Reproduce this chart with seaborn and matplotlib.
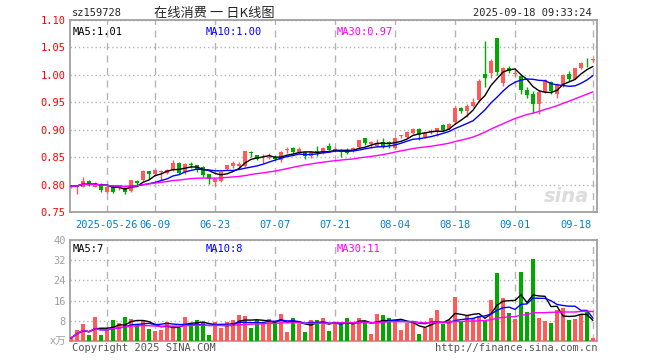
import numpy as np
import pandas as pd
import matplotlib
matplotlib.use("Agg")
import matplotlib.pyplot as plt
import seaborn as sns

# --- daily K-line data for sz159728 ---
opens = [0.796, 0.795, 0.796, 0.807, 0.796, 0.801, 0.787, 0.798, 0.793, 0.793,
         0.789, 0.806, 0.808, 0.824, 0.820, 0.823, 0.821, 0.826, 0.840, 0.823,
         0.837, 0.835, 0.832, 0.819, 0.805, 0.807, 0.828, 0.834, 0.833, 0.834,
         0.860, 0.853, 0.848, 0.849, 0.851, 0.844, 0.863, 0.866, 0.858, 0.859,
         0.852, 0.861, 0.858, 0.870, 0.861, 0.863, 0.863, 0.861, 0.869, 0.884,
         0.874, 0.870, 0.877, 0.877, 0.867, 0.889, 0.887, 0.894, 0.902, 0.887,
         0.896, 0.898, 0.908, 0.902, 0.914, 0.939, 0.934, 0.944, 0.954, 1.001,
         1.004, 1.067, 0.986, 1.013, 1.002, 0.998, 0.972, 0.966, 0.946, 0.969,
         0.987, 0.965, 0.980, 1.001, 0.993, 1.013, 1.024, 1.027]
closes = [0.797, 0.798, 0.807, 0.799, 0.803, 0.790, 0.796, 0.787, 0.798, 0.787,
          0.808, 0.803, 0.825, 0.819, 0.826, 0.824, 0.827, 0.840, 0.821, 0.837,
          0.836, 0.826, 0.818, 0.811, 0.811, 0.823, 0.835, 0.839, 0.838, 0.861,
          0.857, 0.847, 0.849, 0.850, 0.846, 0.859, 0.864, 0.859, 0.864, 0.852,
          0.859, 0.858, 0.867, 0.863, 0.865, 0.859, 0.858, 0.867, 0.881, 0.875,
          0.878, 0.875, 0.869, 0.876, 0.884, 0.890, 0.896, 0.902, 0.890, 0.894,
          0.898, 0.903, 0.900, 0.910, 0.939, 0.934, 0.944, 0.951, 0.988, 0.995,
          1.026, 1.005, 1.012, 1.007, 1.004, 0.973, 0.963, 0.946, 0.969, 0.990,
          0.971, 0.983, 0.999, 0.993, 1.012, 1.021, 1.023, 1.028]
highs = [0.800, 0.799, 0.814, 0.809, 0.804, 0.803, 0.798, 0.799, 0.800, 0.794,
         0.809, 0.808, 0.827, 0.825, 0.829, 0.826, 0.829, 0.845, 0.842, 0.840,
         0.841, 0.836, 0.834, 0.820, 0.812, 0.824, 0.836, 0.843, 0.842, 0.862,
         0.861, 0.854, 0.855, 0.858, 0.853, 0.861, 0.868, 0.869, 0.868, 0.860,
         0.861, 0.870, 0.869, 0.875, 0.868, 0.864, 0.866, 0.869, 0.882, 0.885,
         0.880, 0.883, 0.884, 0.880, 0.886, 0.891, 0.897, 0.903, 0.903, 0.896,
         0.901, 0.904, 0.911, 0.912, 0.943, 0.942, 0.946, 0.957, 0.992, 1.061,
         1.028, 1.067, 1.015, 1.016, 1.009, 1.000, 0.977, 0.970, 0.972, 0.992,
         0.989, 0.985, 1.001, 1.007, 1.013, 1.024, 1.030, 1.030]
lows = [0.793, 0.782, 0.795, 0.797, 0.795, 0.787, 0.785, 0.785, 0.791, 0.783,
        0.787, 0.797, 0.807, 0.811, 0.816, 0.808, 0.819, 0.824, 0.819, 0.820,
        0.830, 0.823, 0.813, 0.801, 0.798, 0.805, 0.826, 0.830, 0.830, 0.832,
        0.851, 0.844, 0.840, 0.847, 0.844, 0.842, 0.857, 0.856, 0.856, 0.847,
        0.848, 0.852, 0.856, 0.859, 0.859, 0.851, 0.855, 0.859, 0.867, 0.873,
        0.866, 0.868, 0.867, 0.866, 0.865, 0.884, 0.885, 0.892, 0.882, 0.885,
        0.893, 0.889, 0.897, 0.900, 0.912, 0.931, 0.924, 0.941, 0.952, 0.977,
        0.995, 1.000, 0.980, 1.004, 0.997, 0.966, 0.958, 0.930, 0.928, 0.967,
        0.965, 0.957, 0.978, 0.989, 0.992, 1.010, 1.014, 1.023]
# volume in 万手
volumes = [1.2, 4.5, 6.7, 2.3, 9.5, 2.3, 4.5, 8.3, 7.2, 9.5,
           8.9, 6.7, 8.3, 4.9, 4.0, 4.3, 7.6, 5.9, 5.3, 9.5,
           6.9, 8.3, 7.5, 2.3, 7.6, 5.3, 7.6, 8.3, 10.3, 10.0,
           5.2, 8.3, 7.2, 8.9, 6.9, 10.7, 3.6, 9.1, 6.9, 3.6,
           8.3, 8.3, 9.3, 3.9, 6.9, 6.9, 9.3, 6.9, 9.3, 7.6,
           2.9, 10.7, 10.1, 9.3, 8.5, 4.3, 7.3, 7.3, 2.7, 5.3,
           9.3, 12.3, 6.9, 8.5, 17.5, 7.6, 9.9, 9.3, 9.9, 8.3,
           16.3, 27.1, 17.1, 11.1, 8.7, 27.5, 11.6, 32.3, 9.1, 8.0,
           7.1, 12.3, 12.9, 8.3, 8.7, 10.7, 11.9, 1.1]

# date labels and the candle they sit on
tick_idx = [6, 14, 24, 34, 44, 54, 64, 74, 87]
tick_labels = ["2025-05-26", "06-09", "06-23", "07-07", "07-21",
               "08-04", "08-18", "09-01", "09-18"]
price_ticks = [0.75, 0.80, 0.85, 0.90, 0.95, 1.00, 1.05, 1.10]
vol_ticks = [0, 8, 16, 24, 32, 40]
vol_tick_labels = ["x万", "8", "16", "24", "32", "40"]

RED = "#ff5a5a"
GREEN = "#00a800"
GRID = "#b4b4b4"
FRAME = "#a0a0a0"

sns.set_style("white")
plt.rcParams["font.family"] = ["DejaVu Sans Mono", "Noto Sans CJK SC"]

df = pd.DataFrame({"idx": np.arange(len(closes)), "open": opens, "close": closes,
                   "high": highs, "low": lows, "volume": volumes})
df["up"] = df["close"] >= df["open"]
df["color"] = np.where(df["up"], RED, GREEN)
for w in (5, 10, 30):
    df[f"ma{w}"] = df["close"].rolling(w, min_periods=1).mean()
    df[f"vma{w}"] = df["volume"].rolling(w, min_periods=1).mean()

W, H = 660, 360
fig = plt.figure(figsize=(W / 100, H / 100), dpi=100)
ax = fig.add_axes([70 / W, 1 - 212 / H, 527 / W, 192 / H])
axv = fig.add_axes([70 / W, 1 - 341 / H, 527 / W, 101 / H])
xlim = (-1 / 6, 526 / 6)

# candles
ax.vlines(df["idx"], df["low"], df["high"], colors=df["color"], lw=1, zorder=3)
body_lo = df[["open", "close"]].min(axis=1)
body_h = (df["close"] - df["open"]).abs().clip(lower=0.0009)
ax.bar(df["idx"], body_h, bottom=body_lo, width=0.78, color=df["color"],
       linewidth=0, zorder=3)
sns.lineplot(x=df["idx"], y=df["ma5"], color="black", lw=1, ax=ax, zorder=4)
sns.lineplot(x=df["idx"], y=df["ma10"], color="#0000ff", lw=1, ax=ax, zorder=4)
sns.lineplot(x=df["idx"], y=df["ma30"], color="#ff00ff", lw=1, ax=ax, zorder=4)

# volume
axv.bar(df["idx"], df["volume"], width=0.78, color=df["color"], linewidth=0, zorder=3)
sns.lineplot(x=df["idx"], y=df["vma5"], color="black", lw=1, ax=axv, zorder=4)
sns.lineplot(x=df["idx"], y=df["vma10"], color="#0000ff", lw=1, ax=axv, zorder=4)
sns.lineplot(x=df["idx"], y=df["vma30"], color="#ff00ff", lw=1, ax=axv, zorder=4)

for a in (ax, axv):
    a.set_xlim(*xlim)
    a.set_xticks(tick_idx)
    a.set_xticklabels([])
    a.set_xlabel("")
    a.set_ylabel("")
    a.grid(axis="x", color=GRID, lw=1, ls=(0, (5, 4)))
    a.grid(axis="y", color=GRID, lw=1, ls=(0, (1, 2)))
    a.tick_params(length=0, pad=3)
    for s in a.spines.values():
        s.set_color(FRAME)
        s.set_linewidth(1.3)
    a.set_axisbelow(True)

ax.set_ylim(0.75, 1.10)
ax.set_yticks(price_ticks)
ax.set_yticklabels([f"{v:.2f}" for v in price_ticks], color="red", fontsize=7.5)
axv.set_ylim(0, 40)
axv.set_yticks(vol_ticks)
axv.set_yticklabels(vol_tick_labels, color="#a0a0a0", fontsize=7.5)

for i, (x, lab) in enumerate(zip(tick_idx, tick_labels)):
    last = i == len(tick_idx) - 1
    # the last date label is pulled inside the frame
    xp = xlim[1] - 0.9 if last else x
    ax.text(xp, -0.068, lab, transform=ax.get_xaxis_transform(),
            ha="right" if last else "center", va="center", color="#0080d0", fontsize=7.5)

# header
fig.text(72 / W, 1 - 13 / H, "sz159728", fontsize=7.5, va="center", ha="left")
fig.text(214 / W, 1 - 13 / H, "在线消费 一 日K线图", fontsize=9.5, va="center", ha="center",
         family=["Noto Sans CJK SC", "DejaVu Sans"])
fig.text(592 / W, 1 - 13 / H, "2025-09-18 09:33:24", fontsize=7.5, va="center", ha="right")

# MA readouts
for a, texts in ((ax, ["MA5:1.01", "MA10:1.00", "MA30:0.97"]),
                 (axv, ["MA5:7", "MA10:8", "MA30:11"])):
    for tx, col, xp in zip(texts, ["black", "#0000ff", "#ff00ff"], [73, 206, 337]):
        a.text((xp - 70) / 527, 0.965, tx, transform=a.transAxes, color=col,
               fontsize=7.5, va="top", ha="left")

# watermark and footer
ax.text(0.985, 0.03, "sina", transform=ax.transAxes, ha="right", va="bottom",
        fontsize=14, fontstyle="italic", fontweight="bold", color="#dcdcdc",
        family="DejaVu Sans", zorder=1)
fig.text(72 / W, 1 - 348 / H, "Copyright 2025 SINA.COM", fontsize=7.5, color="#555555",
         va="center", ha="left")
fig.text(597 / W, 1 - 348 / H, "http://finance.sina.com.cn", fontsize=7.5,
         color="#555555", va="center", ha="right")

fig.savefig("out.png", dpi=100, facecolor="white")
